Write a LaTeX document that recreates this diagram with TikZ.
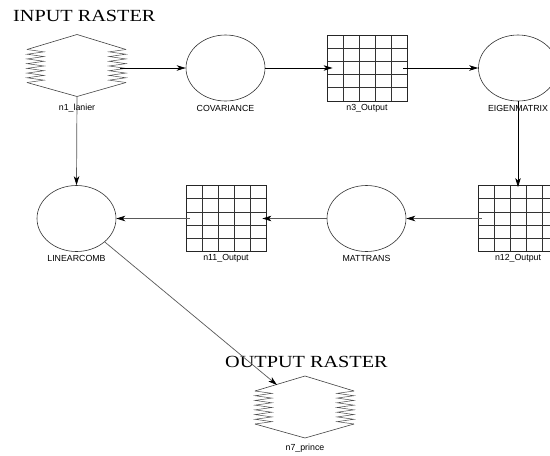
\documentclass[tikz,border=0pt]{standalone}
\usepackage{fontspec}
\usepackage{graphicx}
\setmainfont{Liberation Serif}
\newfontfamily\labfont{Liberation Sans}
\usetikzlibrary{arrows.meta,calc,shapes.geometric}
\newcommand\rasterhex[1]{%
  \begin{scope}[shift={(#1.center)}]
    \draw[hexline] (-50,-16) -- (0,-31) -- (49,-16);
    \draw[hexline] (-50,17) -- (0,31) -- (49,17);
    \draw[zigline] (-50,-16) foreach \k in {1,...,7} { -- (-33,{-18.36+4.714*\k}) -- (-50,{-16+4.714*\k}) };
    \draw[zigline] (49,-16) foreach \k in {1,...,7} { -- (32,{-18.36+4.714*\k}) -- (49,{-16+4.714*\k}) };
  \end{scope}}
\begin{document}
\begin{tikzpicture}[x=1pt,y=-1pt,
  hexline/.style={draw=black!75, line width=0.6pt, line join=miter},
  zigline/.style={draw=black!70, line width=0.5pt, line join=miter},
  hexnode/.style={rectangle, minimum width=99pt, minimum height=62pt, inner sep=0pt},
  ell/.style={draw=black!80, line width=0.6pt, ellipse, minimum width=79pt, minimum height=66pt, inner sep=0pt},
  gridbox/.style={draw=black!85, line width=0.8pt, rectangle, minimum width=80pt, minimum height=66pt, inner sep=0pt,
    path picture={
      \foreach \i in {1,...,4}{
        \draw[black!80, line width=0.7pt] ($(path picture bounding box.south west)!\i/5!(path picture bounding box.south east)$) -- ($(path picture bounding box.north west)!\i/5!(path picture bounding box.north east)$);
        \draw[black!80, line width=0.7pt] ($(path picture bounding box.south west)!\i/5!(path picture bounding box.north west)$) -- ($(path picture bounding box.south east)!\i/5!(path picture bounding box.north east)$);
      }}},
  lab/.style={font=\labfont\fontsize{8.8}{10}\selectfont, inner sep=0pt},
  title/.style={font=\fontsize{17}{20}\selectfont, inner sep=0pt, anchor=base west},
  arr/.style={line width=0.7pt, draw=black, -{Stealth[length=9pt,width=5.5pt,inset=2.5pt]}},
  garr/.style={line width=0.7pt, draw=black!65, -{Stealth[length=9pt,width=5.5pt,inset=2.5pt,color=black,fill=black]}}
]
\useasboundingbox (0,0) rectangle (550,456);
\clip (0,0) rectangle (550,456);
\fill[white] (0,0) rectangle (550,456);

% titles
\node[title] (tin) at (13,21.5) {\scalebox{1.19}[1]{INPUT RASTER}};
\node[title] (tout) at (225,367) {\scalebox{1.19}[1]{OUTPUT RASTER}};

% nodes
\node[hexnode] (n1) at (77,65.5) {};
\rasterhex{n1}
\node[ell] (cov) at (225.5,68) {};
\node[gridbox] (n3) at (367,68) {};
\node[ell] (eig) at (518,68) {};
\node[gridbox] (n12) at (518,218.5) {};
\node[ell] (mat) at (366.5,218.5) {};
\node[gridbox] (n11) at (226,218.5) {};
\node[ell] (lin) at (76.5,218.5) {};
\node[hexnode] (n7) at (305,407) {};
\rasterhex{n7}

% labels
\node[lab] (l1) at (77,108) {n1\_lanier};
\node[lab] (lcov) at (225.5,108) {COVARIANCE};
\node[lab] (l3) at (367,108) {n3\_Output};
\node[lab] (leig) at (518,108) {EIGENMATRIX};
\node[lab] (l12) at (518,258) {n12\_Output};
\node[lab] (lmat) at (366.5,258) {MATTRANS};
\node[lab] (l11) at (226,258) {n11\_Output};
\node[lab] (llin) at (76.5,258) {LINEARCOMB};
\node[lab] (l7) at (305,448) {n7\_prince};

% connectors
\draw[arr] ([shift={(43,2.5)}]n1.center) -- (cov.west);
\draw[arr] (cov.east) -- ([xshift=6pt]n3.west);
\draw[arr] ([xshift=-4pt]n3.east) -- (eig.west);
\draw[arr] (eig.south) -- ([yshift=-2pt]n12.north);
\draw[garr] ([xshift=4pt]n12.west) -- (mat.east);
\draw[garr] (mat.west) -- ([xshift=-4pt]n11.east);
\draw[garr] ([xshift=4pt]n11.west) -- (lin.east);
\draw[garr] (n1.south) -- (lin.north);
\draw[garr] (lin) -- ([shift={(-28,-22)}]n7.center);
\end{tikzpicture}
\end{document}
